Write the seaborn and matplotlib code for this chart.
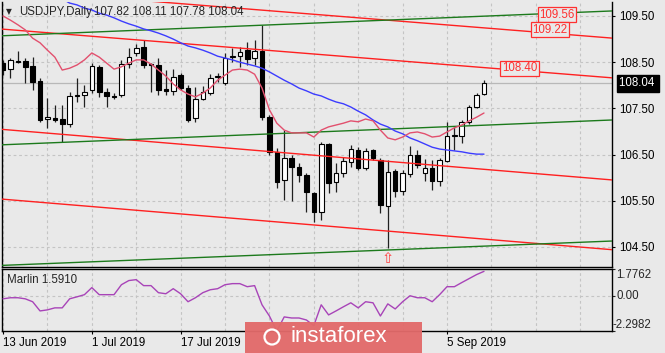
import numpy as np
import pandas as pd
import matplotlib
matplotlib.use("Agg")
import matplotlib.pyplot as plt
import matplotlib.transforms as mtransforms
from matplotlib.patches import FancyBboxPatch, Ellipse
import seaborn as sns

# ---------------- data ----------------
dates = pd.bdate_range("2019-06-13", "2019-09-12")
opens = [108.48,108.35,108.53,108.53,108.42,108.09,107.27,107.29,107.27,107.16,
         107.77,107.79,107.90,108.40,107.86,107.77,107.79,108.46,108.70,108.83,
         108.46,108.44,107.92,107.88,108.22,107.94,107.29,107.70,107.83,108.18,
         108.05,108.61,108.63,108.76,108.59,108.74,107.31,106.56,105.95,106.43,
         106.23,106.06,105.67,105.26,106.73,105.91,106.10,106.34,106.60,106.21,
         106.60,106.38,105.39,106.14,105.71,106.08,106.49,106.10,106.21,105.93,
         106.36,106.90,106.90,107.21,107.53,107.82]
highs = [108.55,108.59,108.74,108.59,108.61,108.16,107.73,107.57,107.57,107.86,
         108.16,108.01,108.48,108.44,107.94,107.83,108.55,108.81,108.89,108.98,
         108.48,108.59,108.33,108.35,108.27,108.01,107.96,107.99,108.24,108.27,
         108.70,108.81,108.83,108.94,108.98,109.31,107.36,106.64,107.03,106.49,
         106.32,106.10,105.69,106.77,106.75,106.32,106.45,106.71,106.66,106.64,
         106.62,106.43,106.38,106.19,106.17,106.69,106.60,106.40,106.38,106.43,
         107.21,107.10,107.25,107.57,107.83,108.11]
lows = [108.22,108.16,108.48,108.05,107.90,107.21,107.08,107.21,106.77,107.10,
        107.64,107.53,107.83,107.75,107.53,107.70,107.75,108.37,108.63,108.37,
        107.86,107.79,107.79,107.79,107.90,107.21,107.21,107.68,107.79,108.07,
        108.01,108.50,108.40,108.44,108.44,107.25,106.49,105.78,105.52,105.50,
        105.91,105.26,105.04,105.08,105.67,105.69,106.01,106.23,106.17,106.17,
        106.38,105.24,104.48,105.58,105.63,106.01,106.21,105.93,105.73,105.82,
        106.34,106.60,106.75,107.16,107.51,107.78]
closes = [108.33,108.55,108.51,108.40,108.07,107.25,107.32,107.25,107.16,107.77,
          107.79,107.86,108.42,107.86,107.77,107.75,108.46,108.61,108.81,108.44,
          108.44,107.90,107.88,108.18,107.94,107.25,107.70,107.86,108.16,108.18,
          108.59,108.63,108.72,108.57,108.74,107.31,106.56,105.91,106.43,106.23,
          106.06,105.69,105.26,106.73,105.89,106.10,106.36,106.62,106.21,106.58,
          106.43,105.41,106.12,105.71,106.10,106.49,106.27,106.21,105.93,106.38,
          106.90,106.92,107.21,107.53,107.79,108.04]
ma_fast = [109.50,109.41,109.31,109.20,109.02,108.92,108.76,108.61,108.33,108.37,
           108.44,108.55,108.70,108.61,108.48,108.35,108.40,108.48,108.55,108.55,
           108.46,108.33,108.20,108.03,107.90,107.81,107.75,107.83,107.94,108.11,
           108.22,108.33,108.35,108.33,108.24,107.94,107.47,107.18,107.03,106.97,
           106.97,106.97,106.88,107.03,107.10,107.14,107.18,107.23,107.21,107.27,
           107.23,107.03,106.86,106.82,106.88,106.97,106.99,106.95,106.88,106.90,
           106.99,107.08,107.14,107.23,107.31,107.40]
ma_slow = [110.28,110.21,110.15,110.11,110.04,110.00,109.95,109.91,109.87,109.78,
           109.74,109.67,109.63,109.56,109.52,109.46,109.39,109.33,109.28,109.22,
           109.18,109.13,109.07,109.00,108.92,108.85,108.81,108.76,108.70,108.63,
           108.59,108.55,108.50,108.46,108.42,108.37,108.29,108.20,108.11,108.03,
           107.94,107.88,107.81,107.77,107.70,107.64,107.60,107.53,107.44,107.36,
           107.25,107.16,107.10,107.01,106.95,106.86,106.80,106.73,106.66,106.62,
           106.60,106.58,106.56,106.53,106.51,106.51]
marlin = [-0.20,-0.13,-0.13,-0.20,-0.39,-0.99,-0.92,-0.79,-0.79,-0.20,
          -0.07,0.07,0.53,0.07,0.07,0.07,0.72,0.99,1.05,0.66,
          0.66,0.20,0.13,0.46,0.13,-0.39,-0.13,0.20,0.39,0.46,
          0.72,0.79,0.79,0.59,0.66,-0.59,-1.32,-2.30,-1.38,-1.45,
          -1.45,-1.58,-1.95,-0.59,-1.25,-0.99,-0.72,-0.46,-0.79,-0.39,
          -0.46,-1.32,-0.53,-0.86,-0.39,0.00,-0.13,-0.13,-0.39,0.07,
          0.59,0.59,0.86,1.12,1.38,1.59]

# channel / trend lines: (bar index at start, bar index at end) and prices
line_idx = [-0.41, 82.43]
red_start = [110.08, 109.22, 107.05, 105.54]
red_end = [109.02, 108.16, 105.95, 104.44]
green_start = [109.07, 106.71, 104.10]
green_end = [109.61, 107.25, 104.63]

level_text = ["109.56", "109.22", "108.40"]
level_idx = [74.9, 73.9, 69.8]
level_price = [109.53, 109.20, 108.37]

last_price = 108.04
price_ticks = [109.5, 108.5, 107.5, 106.5, 105.5, 104.5]
marlin_ticks = [1.7762, 0.0, -2.2982]
date_labels = ["13 Jun 2019", "1 Jul 2019", "17 Jul 2019", "5 Sep 2019"]
date_keys = ["2019-06-13", "2019-07-01", "2019-07-17", "2019-09-05"]
signal_idx = 52
signal_price = 104.25

# ---------------- figure ----------------
sns.set_theme(style="white")
plt.rcParams['font.family'] = ['Liberation Sans', 'DejaVu Sans']
BG = '#e9e9e9'
W, H = 665, 353
fig = plt.figure(figsize=(W / 100, H / 100), dpi=100, facecolor=BG)

def fx(px):
    return px / W

def fy(py):
    return 1 - py / H

ax = fig.add_axes([fx(2), fy(267), fx(612) - fx(2), fy(2) - fy(267)], facecolor=BG)
ax2 = fig.add_axes([fx(2), fy(331), fx(612) - fx(2), fy(268.5) - fy(331)], facecolor=BG)

idx = np.arange(len(closes))
o = np.array(opens); c = np.array(closes)
up = c >= o

# grid
for a in (ax, ax2):
    for g in np.arange(0, 84, 6):
        a.axvline(g, color='#c4c4c4', lw=0.8, ls=(0, (2.5, 2.5)), zorder=0)
for p in price_ticks:
    ax.axhline(p, color='#c4c4c4', lw=0.8, ls=(0, (2.5, 2.5)), zorder=0)
ax2.axhline(0, color='#c4c4c4', lw=0.8, ls=(0, (2.5, 2.5)), zorder=0)

# current price line
ax.axhline(last_price, color='#b8b8b8', lw=0.9, zorder=1)

# candles
ax.vlines(idx, lows, highs, color='#202020', lw=0.9, zorder=2)
body_bottom = np.minimum(o, c)
body_h = np.maximum(np.abs(c - o), 0.012)
ax.bar(idx, body_h, bottom=body_bottom, width=0.62,
       color=np.where(up, 'white', 'black'), edgecolor='black', lw=0.8, zorder=3)

# trend lines
for s, e in zip(red_start, red_end):
    ax.plot(line_idx, [s, e], color='#ff2020', lw=1.0, zorder=4)
for s, e in zip(green_start, green_end):
    ax.plot(line_idx, [s, e], color='#1c7a1c', lw=1.0, zorder=4)

# moving averages
df = pd.DataFrame({'i': idx, 'fast': ma_fast, 'slow': ma_slow, 'marlin': marlin})
sns.lineplot(data=df, x='i', y='slow', ax=ax, color='#3c3cff', lw=1.0, zorder=5)
sns.lineplot(data=df, x='i', y='fast', ax=ax, color='#e2506e', lw=1.0, zorder=5)

# level labels
for t, xi, pr in zip(level_text, level_idx, level_price):
    ax.text(xi, pr, t, color='#ff3030', fontsize=8.3, ha='center', va='center', zorder=6,
            bbox=dict(boxstyle='square,pad=0.12', facecolor=BG, edgecolor='#ff3030', lw=0.9))

# signal arrow
ax.text(signal_idx, signal_price, '\u21e7', color='#ff4040', fontsize=10.5, ha='center', va='center',
        family='DejaVu Sans', zorder=6)

ax.set_xlim(-0.14, 82.3)
ax.set_ylim(104.067, 109.803)
ax.yaxis.tick_right()
ax.set_yticks(price_ticks)
ax.set_yticklabels([f"{p:.2f}" for p in price_ticks])
ax.tick_params(axis='y', right=True, length=2.5, width=0.8, pad=2.5, labelsize=8.3, colors='black')
ax.set_xticks([])
ax.set_xlabel(''); ax.set_ylabel('')
for sp in ['left', 'right', 'bottom']:
    ax.spines[sp].set_color('black'); ax.spines[sp].set_linewidth(1.0); ax.spines[sp].set_visible(True)
ax.spines['top'].set_visible(False)

# last price tag
trans = mtransforms.blended_transform_factory(ax.transAxes, ax.transData)
ax.text(1.011, last_price, '108.04 ', transform=trans, color='white', fontsize=8.3, ha='left',
        va='center', clip_on=False, zorder=7,
        bbox=dict(boxstyle='square,pad=0.18', facecolor='black', edgecolor='black'))

# lower panel: Marlin
sns.lineplot(data=df, x='i', y='marlin', ax=ax2, color='#a844b8', lw=1.0, zorder=3)
ax2.set_xlim(-0.14, 82.3)
ax2.set_ylim(-2.2982, 1.7762)
ax2.yaxis.tick_right()
ax2.set_yticks(marlin_ticks)
ax2.set_yticklabels([])
ax2.tick_params(axis='y', right=True, length=2.5, width=0.8)
tick_pos = [list(dates).index(pd.Timestamp(d)) for d in date_keys]
ax2.set_xticks(tick_pos)
ax2.set_xticklabels(date_labels, ha='left')
ax2.tick_params(axis='x', bottom=True, length=2.5, width=0.8, pad=2, labelsize=8.3, colors='black')
ax2.set_xlabel(''); ax2.set_ylabel('')
for sp in ax2.spines.values():
    sp.set_visible(True); sp.set_color('black'); sp.set_linewidth(1.0)
trans2 = mtransforms.blended_transform_factory(ax2.transAxes, ax2.transData)
ax2.text(1.007, marlin_ticks[0], '1.7762', transform=trans2, fontsize=8.3, ha='left', va='top', clip_on=False)
ax2.text(1.007, marlin_ticks[1], '0.00', transform=trans2, fontsize=8.3, ha='left', va='center', clip_on=False)
ax2.text(1.001, marlin_ticks[2], '-2.2982', transform=trans2, fontsize=8.3, ha='left', va='bottom', clip_on=False)
ax2.text(0.008, 0.82, 'Marlin 1.5910', transform=ax2.transAxes, fontsize=8.3, ha='left', va='center')

# header
fig.text(fx(6), fy(11.5), '\u25bc', fontsize=5.5, family='DejaVu Sans', va='center', ha='left')
fig.text(fx(19), fy(12), 'USDJPY,Daily', fontsize=8.3, va='center', ha='left')
fig.text(fx(94), fy(12), '107.82 108.11 107.78 108.04', fontsize=8.3, va='center', ha='left')

# watermark
wm = FancyBboxPatch((fx(245), 0), fx(422) - fx(245), fy(322), boxstyle='square,pad=0',
                    transform=fig.transFigure, facecolor='#e26a6a', edgecolor='none', alpha=0.96, zorder=10)
fig.add_artist(wm)
fig.add_artist(Ellipse((fx(272), fy(337)), 15 / W, 15 / H, transform=fig.transFigure, fill=False,
                       edgecolor='white', lw=1.6, zorder=11))
fig.text(fx(290), fy(337), 'instaforex', color='white', fontsize=16, va='center', ha='left', zorder=11)

fig.savefig('out.png', dpi=100, facecolor=BG)
